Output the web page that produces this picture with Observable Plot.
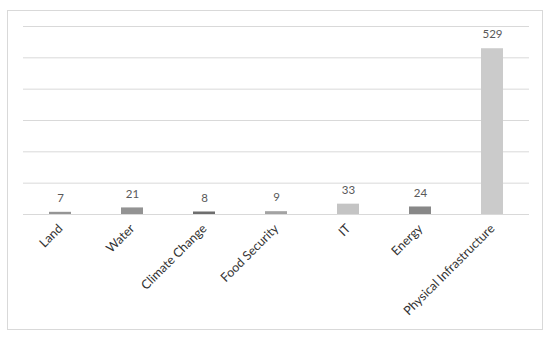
<!DOCTYPE html>
<html>
<head>
<meta charset="utf-8">
<script src="https://cdn.jsdelivr.net/npm/d3@7"></script>
<script src="https://cdn.jsdelivr.net/npm/@observablehq/plot@0.6"></script>
<style>
  html, body { margin: 0; padding: 0; background: #fff; }
  #wrap { position: relative; width: 550px; height: 339px; }
  #border { position: absolute; left: 7px; top: 10px; width: 536px; height: 320px; border: 1px solid #d9d9d9; box-sizing: border-box; }
  #chart { position: absolute; left: 0; top: 0; }
</style>
</head>
<body>
<div id="wrap"><div id="border"></div><div id="chart"></div></div>
<script>
const categories = ["Land", "Water", "Climate Change", "Food Security", "IT", "Energy", "Physical Infrastructure"];
const values = [7, 21, 8, 9, 33, 24, 529];
const colors = ["#959595", "#939393", "#6e6e6e", "#a3a3a3", "#c4c4c4", "#888888", "#cbcbcb"];
const yTicks = [0, 100, 200, 300, 400, 500, 600];

const data = categories.map((c, i) => ({category: c, value: values[i], color: colors[i]}));

const chart = Plot.plot({
  width: 550,
  height: 339,
  marginLeft: 23,
  marginRight: 21,
  marginTop: 26,
  marginBottom: 125,
  style: {background: "transparent", fontFamily: "Lato, 'Open Sans', sans-serif"},
  x: {domain: categories, paddingInner: 0.69, paddingOuter: 0.345},
  y: {domain: [0, 600]},
  marks: [
    Plot.ruleY(yTicks, {stroke: "#d9d9d9", strokeWidth: 1}),
    Plot.barY(data, {x: "category", y: "value", fill: "color"}),
    Plot.text(data, {x: "category", y: "value", text: d => String(d.value), dy: -14, lineAnchor: "middle", fill: "#595959", fontSize: 11.5, letterSpacing: "0.5px"}),
    Plot.axisX({tickRotate: -45, tickSize: 0, tickPadding: 12, fontSize: 12.5, color: "#333333", label: null}),
    Plot.axisY({ticks: [], label: null})
  ]
});
document.getElementById("chart").appendChild(chart);
</script>
</body>
</html>
